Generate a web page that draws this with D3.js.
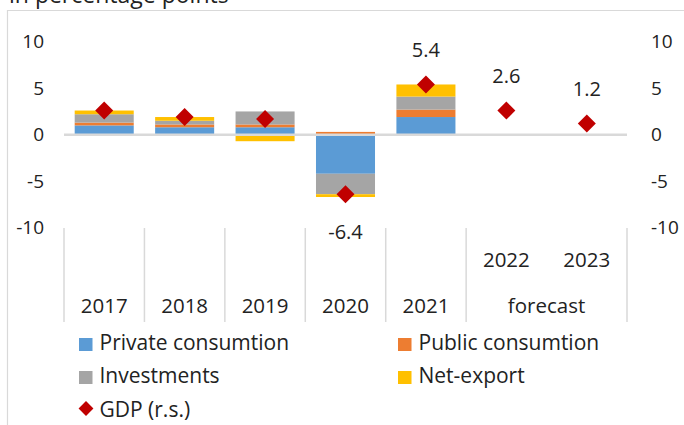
<!DOCTYPE html>
<html>
<head>
<meta charset="utf-8">
<script src="https://cdn.jsdelivr.net/npm/d3@7"></script>
<style>
  html, body { margin: 0; padding: 0; background: #fff; }
  svg { display: block; font-family: "Open Sans", "Noto Sans", sans-serif; }
</style>
</head>
<body>
<svg id="chart" width="684" height="425"></svg>
<script>
// ---- data ----
const categories = ["2017", "2018", "2019", "2020", "2021", "2022", "2023"];
const innerLabels = ["", "", "", "", "", "2022", "2023"];
const outerLabels = ["2017", "2018", "2019", "2020", "2021", "forecast"];
const outerSpans = [1, 1, 1, 1, 1, 2];

const seriesNames = ["Private consumtion", "Public consumtion", "Investments", "Net-export"];
const privateConsumption = [1.0, 0.8, 0.8, -4.2, 1.9, 0, 0];
const publicConsumption = [0.3, 0.3, 0.3, 0.3, 0.8, 0, 0];
const investments = [0.9, 0.4, 1.4, -2.2, 1.4, 0, 0];
const netExport = [0.4, 0.4, -0.7, -0.3, 1.3, 0, 0];
const gdp = [2.6, 1.9, 1.7, -6.4, 5.4, 2.6, 1.2];
const gdpLabelShown = [false, false, false, true, true, true, true];
const yTicks = [-10, -5, 0, 5, 10];

const colors = ["#5B9BD5", "#ED7D31", "#A5A5A5", "#FFC000"];
const gdpColor = "#C00000";
const lineGray = "#D9D9D9";

// ---- layout ----
const svg = d3.select("#chart");
const x = d3.scaleBand().domain(categories).range([64, 627]).paddingInner(0.266).paddingOuter(0.133);
const y = d3.scaleLinear().domain([-10, 10]).range([227.7, 41.7]);
const fmtInt = v => String(v);

// frame
svg.append("line").attr("x1", 7).attr("x2", 684).attr("y1", 10.5).attr("y2", 10.5)
  .attr("stroke", lineGray).attr("stroke-width", 1.2);
svg.append("line").attr("x1", 7.5).attr("x2", 7.5).attr("y1", 10).attr("y2", 425)
  .attr("stroke", lineGray).attr("stroke-width", 1.2);

// title (cropped at top, as in the reference)
svg.append("text").attr("x", 9).attr("y", 3).attr("font-size", 23).attr("fill", "#222")
  .text("in percentage points");

// stacked bars
const table = categories.map((c, i) => ({
  cat: c,
  "Private consumtion": privateConsumption[i],
  "Public consumtion": publicConsumption[i],
  "Investments": investments[i],
  "Net-export": netExport[i]
}));
const stacked = d3.stack().keys(seriesNames).offset(d3.stackOffsetDiverging)(table);

svg.append("g").selectAll("g").data(stacked).join("g")
  .attr("fill", (d, i) => colors[i])
  .selectAll("rect").data(d => d).join("rect")
  .attr("x", d => x(d.data.cat))
  .attr("width", x.bandwidth())
  .attr("y", d => y(Math.max(d[0], d[1])))
  .attr("height", d => Math.abs(y(d[0]) - y(d[1])));

// zero axis line
svg.append("line").attr("x1", 64).attr("x2", 627).attr("y1", y(0)).attr("y2", y(0))
  .attr("stroke", lineGray).attr("stroke-width", 2.5);

// category separators
const sepIdx = [0, 1, 2, 3, 4, 5, 7];
svg.append("g").selectAll("line").data(sepIdx).join("line")
  .attr("x1", i => 64 + i * x.step()).attr("x2", i => 64 + i * x.step())
  .attr("y1", 228).attr("y2", 322)
  .attr("stroke", lineGray).attr("stroke-width", 1.5);

// y axes
const leftAxis = svg.append("g").attr("transform", "translate(44,0)")
  .call(d3.axisLeft(y).tickValues(yTicks).tickFormat(fmtInt).tickSize(0).tickPadding(0));
const rightAxis = svg.append("g").attr("transform", "translate(651,0)")
  .call(d3.axisRight(y).tickValues(yTicks).tickFormat(fmtInt).tickSize(0).tickPadding(0));
[leftAxis, rightAxis].forEach(a => {
  a.select(".domain").remove();
  a.selectAll("text").attr("font-size", 19).attr("fill", "#222")
    .attr("font-family", "'Open Sans', sans-serif");
});

// GDP diamonds
const diamond = d3.symbol().type(d3.symbolSquare).size(162);
svg.append("g").selectAll("path").data(gdp).join("path")
  .attr("d", diamond)
  .attr("transform", (d, i) => `translate(${x(categories[i]) + x.bandwidth() / 2},${y(d)}) rotate(45)`)
  .attr("fill", gdpColor);

// GDP labels
svg.append("g").selectAll("text").data(gdp.map((v, i) => ({ v, i })).filter(d => gdpLabelShown[d.i]))
  .join("text")
  .attr("x", d => x(categories[d.i]) + x.bandwidth() / 2)
  .attr("y", d => d.v >= 0 ? y(d.v) - 34.5 : y(d.v) + 37.5)
  .attr("dy", "0.35em")
  .attr("text-anchor", "middle").attr("font-size", 20).attr("fill", "#222")
  .text(d => d.v.toFixed(1));

// category labels (inner level)
svg.append("g").selectAll("text").data(innerLabels).join("text")
  .attr("x", (d, i) => x(categories[i]) + x.bandwidth() / 2)
  .attr("y", 266.5)
  .attr("text-anchor", "middle").attr("font-size", 20.5).attr("fill", "#222")
  .text(d => d);

// category labels (outer level)
let start = 0;
const outerPos = outerSpans.map(s => { const p = start + s / 2; start += s; return p; });
svg.append("g").selectAll("text").data(outerLabels).join("text")
  .attr("x", (d, i) => 64 + outerPos[i] * x.step())
  .attr("y", 313)
  .attr("text-anchor", "middle").attr("font-size", 20.5).attr("fill", "#222")
  .text(d => d);

// legend
const legendItems = [
  { name: seriesNames[0], color: colors[0], col: 0, row: 0 },
  { name: seriesNames[1], color: colors[1], col: 1, row: 0 },
  { name: seriesNames[2], color: colors[2], col: 0, row: 1 },
  { name: seriesNames[3], color: colors[3], col: 1, row: 1 }
];
const colX = [79, 398];
const rowY = [350, 383, 416.5];
const lg = svg.append("g");
legendItems.forEach(it => {
  lg.append("rect").attr("x", colX[it.col]).attr("y", rowY[it.row] - 12)
    .attr("width", 13.5).attr("height", 13).attr("fill", it.color);
  lg.append("text").attr("x", colX[it.col] + 20.5).attr("y", rowY[it.row])
    .attr("font-size", 21).attr("fill", "#222").text(it.name);
});
lg.append("path").attr("d", d3.symbol().type(d3.symbolSquare).size(110))
  .attr("transform", `translate(${colX[0] + 7},${rowY[2] - 8}) rotate(45)`)
  .attr("fill", gdpColor);
lg.append("text").attr("x", colX[0] + 20.5).attr("y", rowY[2])
  .attr("font-size", 21).attr("fill", "#222").text("GDP (r.s.)");
</script>
</body>
</html>
